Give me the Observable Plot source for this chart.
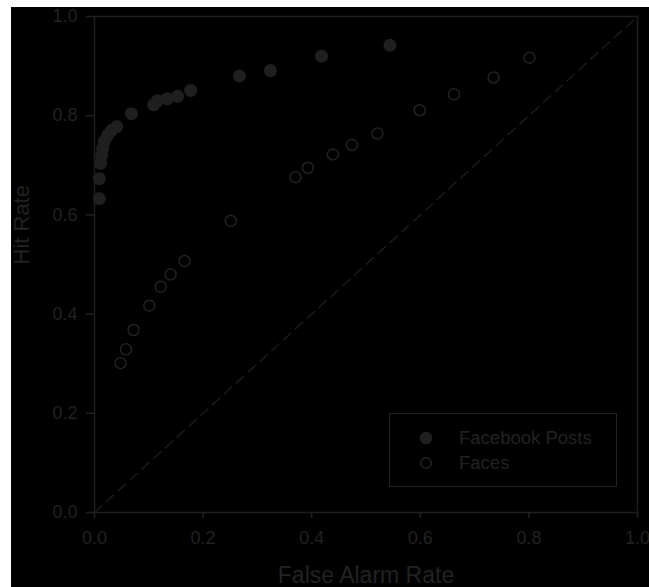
<!DOCTYPE html>
<html>
<head>
<meta charset="utf-8">
<script src="https://cdn.jsdelivr.net/npm/d3@7"></script>
<script src="https://cdn.jsdelivr.net/npm/@observablehq/plot@0.6"></script>
<style>
  html, body { margin: 0; padding: 0; background: #fff; }
  #stage { position: relative; width: 649px; height: 587px; overflow: hidden; }
  #backdrop { position: absolute; left: 11px; top: 7px; right: 0; bottom: 0; background: #000; }
  #chart { position: absolute; left: 0; top: 0; }
  #legend {
    position: absolute; left: 389px; top: 413px; width: 226px; height: 72px;
    border: 1.5px solid #222; font-family: "Liberation Sans", Arial, sans-serif;
    font-size: 18.5px; color: #222;
  }
  .item { position: absolute; left: 0; height: 20px; display: flex; align-items: center; }
  .item svg { position: absolute; left: 29px; }
  .item span { position: absolute; left: 69px; white-space: nowrap; line-height: 20px; }
</style>
</head>
<body>
<div id="stage">
  <div id="backdrop"></div>
  <div id="chart"></div>
  <div id="legend"></div>
</div>
<script>
// ROC points: false alarm rate vs hit rate for the two stimulus sets
const postsFalseAlarm = [0.009, 0.009, 0.011, 0.013, 0.015, 0.018, 0.024, 0.031, 0.041, 0.068,
                         0.109, 0.116, 0.134, 0.153, 0.177, 0.267, 0.324, 0.418, 0.544];
const postsHit        = [0.633, 0.673, 0.704, 0.720, 0.734, 0.748, 0.760, 0.770, 0.778, 0.804,
                         0.822, 0.830, 0.834, 0.839, 0.851, 0.880, 0.891, 0.920, 0.942];

const facesFalseAlarm = [0.048, 0.058, 0.072, 0.101, 0.122, 0.140, 0.166, 0.251, 0.370,
                         0.393, 0.439, 0.474, 0.521, 0.599, 0.662, 0.735, 0.801];
const facesHit        = [0.301, 0.329, 0.368, 0.417, 0.455, 0.480, 0.507, 0.588, 0.676,
                         0.695, 0.722, 0.741, 0.764, 0.811, 0.843, 0.877, 0.917];

// chance diagonal
const chanceRate = [0, 1];

const axisTicks = [0, 0.2, 0.4, 0.6, 0.8, 1.0];
const seriesNames = ["Facebook Posts", "Faces"];
const xTitle = "False Alarm Rate";
const yTitle = "Hit Rate";

const posts = postsFalseAlarm.map((fa, i) => ({fa, hit: postsHit[i]}));
const faces = facesFalseAlarm.map((fa, i) => ({fa, hit: facesHit[i]}));
const chance = chanceRate.map(v => ({fa: v, hit: v}));

const ink = "#222";
const fmt = d3.format(".1f");

const chart = Plot.plot({
  width: 649,
  height: 587,
  marginLeft: 94,
  marginRight: 12,
  marginTop: 16,
  marginBottom: 75,
  style: {background: "transparent", fontFamily: "'Liberation Sans', Arial, sans-serif", fontSize: "18px", color: ink},
  x: {domain: [0, 1]},
  y: {domain: [0, 1]},
  marks: [
    Plot.frame({stroke: "#1e1e1e", strokeWidth: 1.5}),
    Plot.axisX({ticks: axisTicks, tickSize: 6, tickPadding: 13, tickFormat: fmt, label: null, strokeWidth: 1.5}),
    Plot.axisY({ticks: axisTicks, tickSize: 8, tickPadding: 9, tickFormat: fmt, label: null, strokeWidth: 1.5}),
    Plot.line(chance, {x: "fa", y: "hit", stroke: "#1e1e1e", strokeWidth: 1.3, strokeDasharray: "10,6"}),
    Plot.dot(faces, {x: "fa", y: "hit", r: 5.5, stroke: ink, strokeWidth: 1.5, fill: "none"}),
    Plot.dot(posts, {x: "fa", y: "hit", r: 6.5, fill: "#1f1f1f", stroke: "none"}),
    Plot.text([xTitle], {frameAnchor: "bottom", text: d => d, lineAnchor: "bottom", dy: 70, fontSize: 23, fill: ink}),
    Plot.text([yTitle], {frameAnchor: "left", text: d => d, rotate: -90, lineAnchor: "bottom", dx: -65.5, fontSize: 22, fill: ink})
  ]
});
document.getElementById("chart").appendChild(chart);

// legend box inside the plot area
const legend = document.getElementById("legend");
seriesNames.forEach((name, i) => {
  const row = document.createElement("div");
  row.className = "item";
  row.style.top = (14 + i * 25) + "px";
  const filled = i === 0;
  row.innerHTML =
    `<svg width="14" height="14" viewBox="-7 -7 14 14">` +
    (filled
      ? `<circle r="6.3" fill="#1f1f1f"></circle>`
      : `<circle r="5.3" fill="none" stroke="${ink}" stroke-width="1.5"></circle>`) +
    `</svg><span>${name}</span>`;
  legend.appendChild(row);
});
</script>
</body>
</html>
